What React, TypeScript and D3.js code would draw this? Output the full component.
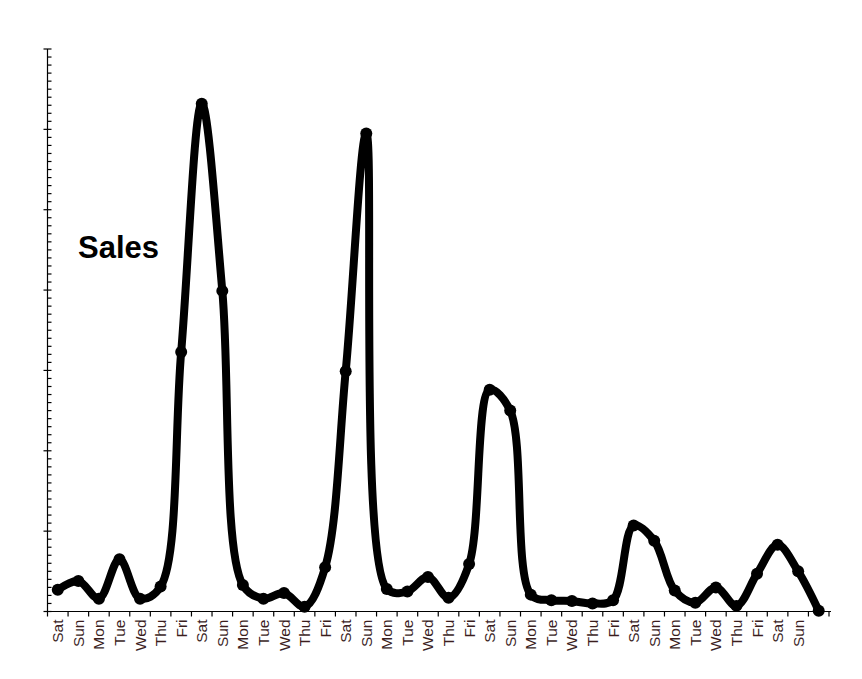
import React, { useEffect, useRef } from 'react';
import * as d3 from 'd3';

const days: string[] = [
  'Sat', 'Sun', 'Mon', 'Tue', 'Wed', 'Thu', 'Fri',
  'Sat', 'Sun', 'Mon', 'Tue', 'Wed', 'Thu', 'Fri',
  'Sat', 'Sun', 'Mon', 'Tue', 'Wed', 'Thu', 'Fri',
  'Sat', 'Sun', 'Mon', 'Tue', 'Wed', 'Thu', 'Fri',
  'Sat', 'Sun', 'Mon', 'Tue', 'Wed', 'Thu', 'Fri',
  'Sat', 'Sun', '',
];

const sales: number[] = [
  27, 38, 16, 65, 16, 31, 323, 632, 399, 33,
  16, 23, 6, 55, 299, 595, 28, 25, 43, 17,
  59, 276, 250, 21, 14, 13, 10, 14, 107, 88,
  26, 11, 30, 7, 47, 83, 50, 1,
];

const yMajor: number[] = d3.range(0, 701, 100);
const yMinor: number[] = d3.range(0, 701, 10).filter((v) => v % 100 !== 0);

const W = 862;
const H = 679;
const left = 47.5;
const right = 829;
const top = 49;
const bottom = 611.5;

const SalesChart: React.FC = () => {
  const svgRef = useRef<SVGSVGElement | null>(null);

  useEffect(() => {
    document.body.style.margin = '0';
    const svg = d3.select(svgRef.current);
    svg.selectAll('*').remove();

    const x = d3.scaleLinear().domain([0, days.length]).range([left, right]);
    const y = d3.scaleLinear().domain([0, 700]).range([bottom, top]);

    // y axis
    const ya = svg.append('g').attr('stroke', '#000').attr('stroke-width', 1.2);
    ya.append('line').attr('x1', left).attr('x2', left).attr('y1', y(700)).attr('y2', y(0));
    ya.selectAll('line.major')
      .data(yMajor)
      .join('line')
      .attr('class', 'major')
      .attr('x1', left - 4)
      .attr('x2', left + 4)
      .attr('y1', (d) => y(d))
      .attr('y2', (d) => y(d));
    ya.selectAll('line.minor')
      .data(yMinor)
      .join('line')
      .attr('class', 'minor')
      .attr('x1', left)
      .attr('x2', left + 4)
      .attr('y1', (d) => y(d))
      .attr('y2', (d) => y(d));

    // x axis
    const xa = svg.append('g').attr('stroke', '#000').attr('stroke-width', 1.2);
    xa.append('line').attr('x1', left).attr('x2', right + 2).attr('y1', bottom).attr('y2', bottom);
    xa.selectAll('line.tick')
      .data(d3.range(days.length + 1))
      .join('line')
      .attr('class', 'tick')
      .attr('x1', (d) => x(d))
      .attr('x2', (d) => x(d))
      .attr('y1', bottom)
      .attr('y2', bottom + 5);

    svg.append('g')
      .selectAll('text')
      .data(days)
      .join('text')
      .attr('transform', (_, i) => `translate(${x(i + 0.5) + 5.5},${bottom + 8}) rotate(-90)`)
      .attr('text-anchor', 'end')
      .attr('font-family', '"Liberation Sans", Arial, sans-serif')
      .attr('font-size', 15.5)
      .attr('fill', '#3b1e1e')
      .text((d) => d);

    // line
    const line = d3.line<number>()
      .x((_, i) => x(i + 0.5))
      .y((d) => y(d))
      .curve(d3.curveCatmullRom.alpha(0.5));

    svg.append('path')
      .datum(sales)
      .attr('d', line)
      .attr('fill', 'none')
      .attr('stroke', '#000')
      .attr('stroke-width', 8)
      .attr('stroke-linejoin', 'round');

    svg.append('g')
      .selectAll('circle')
      .data(sales)
      .join('circle')
      .attr('cx', (_, i) => x(i + 0.5))
      .attr('cy', (d) => y(d))
      .attr('r', 6)
      .attr('fill', '#000');

    svg.append('text')
      .attr('x', 78)
      .attr('y', 258)
      .attr('font-family', '"Liberation Sans", Arial, sans-serif')
      .attr('font-weight', 'bold')
      .attr('font-size', 31)
      .attr('fill', '#000')
      .text('Sales');
  }, []);

  return <svg ref={svgRef} width={W} height={H} style={{ display: 'block', background: '#fff' }} />;
};

export default function App() {
  return <SalesChart />;
}
